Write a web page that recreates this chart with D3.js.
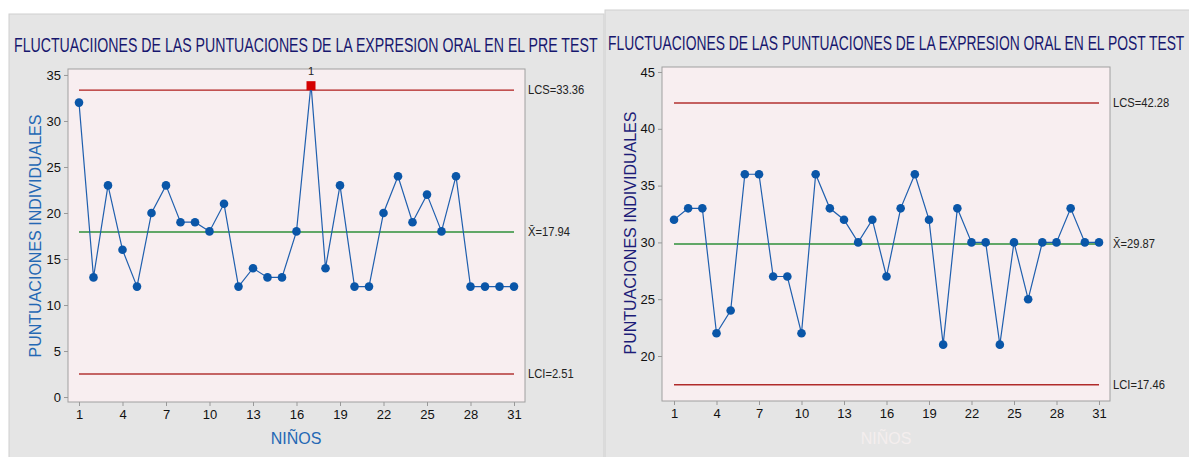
<!DOCTYPE html>
<html>
<head>
<meta charset="utf-8">
<script src="https://cdn.jsdelivr.net/npm/d3@7"></script>
<style>
  body { margin: 0; background: #ffffff; }
  text { font-family: "Liberation Sans", "DejaVu Sans", sans-serif; }
</style>
</head>
<body>
<div id="vis"></div>
<script>
// datos de los dos graficos (ninos 1..31)
const ninos = d3.range(1, 32);
const preTest = [32, 13, 23, 16, 12, 20, 23, 19, 19, 18, 21, 12, 14, 13, 13, 18, 34, 14, 23, 12, 12, 20, 24, 19, 22, 18, 24, 12, 12, 12, 12];
const postTest = [32, 33, 33, 22, 24, 36, 36, 27, 27, 22, 36, 33, 32, 30, 32, 27, 33, 36, 32, 21, 33, 30, 30, 21, 30, 25, 30, 30, 33, 30, 30];
const xTicks = [1, 4, 7, 10, 13, 16, 19, 22, 25, 28, 31];
const preYTicks = [0, 5, 10, 15, 20, 25, 30, 35];
const postYTicks = [20, 25, 30, 35, 40, 45];
const preLimits = { lcs: 33.36, media: 17.94, lci: 2.51 };
const postLimits = { lcs: 42.28, media: 29.87, lci: 17.46 };
const preFuera = [17]; // punto fuera de control

const W = 1189, H = 457;
const svg = d3.select("#vis").append("svg").attr("width", W).attr("height", H);

// estrecha un texto horizontalmente (la fuente original es condensada)
function estrechar(sel, x, y, ancho) {
  const n = sel.node();
  const largo = n.getComputedTextLength();
  const k = ancho / largo;
  sel.attr("x", 0).attr("y", 0).attr("transform", `translate(${x},${y}) scale(${k},1)`);
}

function panel(cfg) {
  const g = svg.append("g");
  // fondo gris del panel
  g.append("rect").attr("x", cfg.px).attr("y", cfg.py).attr("width", cfg.pw).attr("height", H - cfg.py + 2)
    .attr("fill", "#e5e5e5").attr("stroke", "#cfcfcf");

  const x = d3.scaleLinear().domain([1, 31]).range([cfg.x1, cfg.x31]);
  const y = d3.scaleLinear().domain(cfg.yDomain).range([cfg.bottom, cfg.top]);

  // area del grafico
  g.append("rect").attr("x", cfg.left).attr("y", cfg.top).attr("width", cfg.right - cfg.left)
    .attr("height", cfg.bottom - cfg.top).attr("fill", "#f8eef0").attr("stroke", "#a0a0a0");

  // titulo
  const tit = g.append("text").text(cfg.title)
    .attr("font-size", 20).attr("fill", "#17176e");
  estrechar(tit, cfg.tx0, cfg.ty, cfg.tx1 - cfg.tx0);

  // eje y
  const ay = g.append("g").attr("transform", `translate(${cfg.left},0)`)
    .call(d3.axisLeft(y).tickValues(cfg.yTicks).tickSize(4).tickPadding(3));
  ay.select(".domain").remove();
  ay.selectAll("line").attr("stroke", "#999");
  ay.selectAll("text").attr("font-size", 13).attr("fill", "#111");

  // eje x
  const ax = g.append("g").attr("transform", `translate(0,${cfg.bottom})`)
    .call(d3.axisBottom(x).tickValues(xTicks).tickSize(4).tickPadding(4));
  ax.select(".domain").remove();
  ax.selectAll("line").attr("stroke", "#999");
  ax.selectAll("text").attr("font-size", 13).attr("fill", "#111");

  // lineas de control
  const lim = cfg.limits;
  const ctrl = [
    { v: lim.lcs, c: cfg.lcsColor, w: cfg.lcsW, t: "LCS=" + lim.lcs.toFixed(2) },
    { v: lim.media, c: "#2f8f3a", w: 1.5, t: "X\u0304=" + lim.media.toFixed(2) },
    { v: lim.lci, c: cfg.lciColor, w: cfg.lciW, t: "LCI=" + lim.lci.toFixed(2) },
  ];
  g.selectAll(".ctrl").data(ctrl).join("line")
    .attr("x1", x(1)).attr("x2", x(31))
    .attr("y1", d => y(d.v)).attr("y2", d => y(d.v))
    .attr("stroke", d => d.c).attr("stroke-width", d => d.w);
  g.selectAll(".ctrlLbl").data(ctrl).join("text")
    .attr("font-size", 13).attr("fill", "#222").text(d => d.t)
    .each(function (d) {
      const s = d3.select(this);
      estrechar(s, cfg.right + 3, y(d.v) + 4, this.getComputedTextLength() * 0.86);
    });

  // serie
  const pts = ninos.map((n, i) => ({ n, v: cfg.values[i] }));
  g.append("path").datum(pts)
    .attr("fill", "none").attr("stroke", "#1f5fae").attr("stroke-width", 1.2)
    .attr("d", d3.line().x(d => x(d.n)).y(d => y(d.v)));
  const normales = pts.filter(d => !cfg.fuera.includes(d.n));
  g.selectAll(".pt").data(normales).join("circle")
    .attr("cx", d => x(d.n)).attr("cy", d => y(d.v)).attr("r", 4.3).attr("fill", "#0a56a8");
  const malos = pts.filter(d => cfg.fuera.includes(d.n));
  g.selectAll(".bad").data(malos).join("rect")
    .attr("x", d => x(d.n) - 4.5).attr("y", d => y(d.v) - 3)
    .attr("width", 9).attr("height", 9).attr("fill", "#d40000");
  g.selectAll(".badLbl").data(malos).join("text")
    .attr("x", d => x(d.n)).attr("y", d => y(d.v) - 9)
    .attr("text-anchor", "middle").attr("font-size", 11).attr("fill", "#222").text("1");

  // titulos de ejes
  g.append("text").attr("transform", `translate(${cfg.ylx},${cfg.yly}) rotate(-90)`)
    .attr("text-anchor", "middle").attr("font-size", 17).attr("fill", cfg.ylColor)
    .attr("textLength", 243).attr("lengthAdjust", "spacingAndGlyphs")
    .text("PUNTUACIONES INDIVIDUALES");
  g.append("text").attr("x", cfg.xlx).attr("y", 444).attr("text-anchor", "middle")
    .attr("font-size", 16).attr("fill", cfg.xlColor).text("NIÑOS");
}

panel({
  px: 9, py: 14, pw: 595,
  left: 68, right: 525, top: 69, bottom: 402,
  x1: 79, x31: 514, yDomain: [-0.54, 35.65], yTicks: preYTicks,
  values: preTest, limits: preLimits, fuera: preFuera,
  title: "FLUCTUACIIONES DE LAS PUNTUACIONES DE LA EXPRESION ORAL EN EL PRE TEST",
  tx0: 14, tx1: 598, ty: 52,
  lcsColor: "#b01c1c", lcsW: 1.2, lciColor: "#c46464", lciW: 2,
  ylx: 41, yly: 236, ylColor: "#2468b4", xlx: 296, xlColor: "#2468b4",
});

panel({
  px: 605, py: 10, pw: 590,
  left: 662, right: 1110, top: 67, bottom: 401,
  x1: 674, x31: 1099, yDomain: [16.04, 45.44], yTicks: postYTicks,
  values: postTest, limits: postLimits, fuera: [],
  title: "FLUCTUACIONES DE LAS PUNTUACIONES DE LA EXPRESION ORAL EN EL POST TEST",
  tx0: 608, tx1: 1185, ty: 50,
  lcsColor: "#c46060", lcsW: 2, lciColor: "#b02a2a", lciW: 1.5,
  ylx: 636, yly: 233, ylColor: "#1c1c78", xlx: 886, xlColor: "#f4eeee",
});
</script>
</body>
</html>
